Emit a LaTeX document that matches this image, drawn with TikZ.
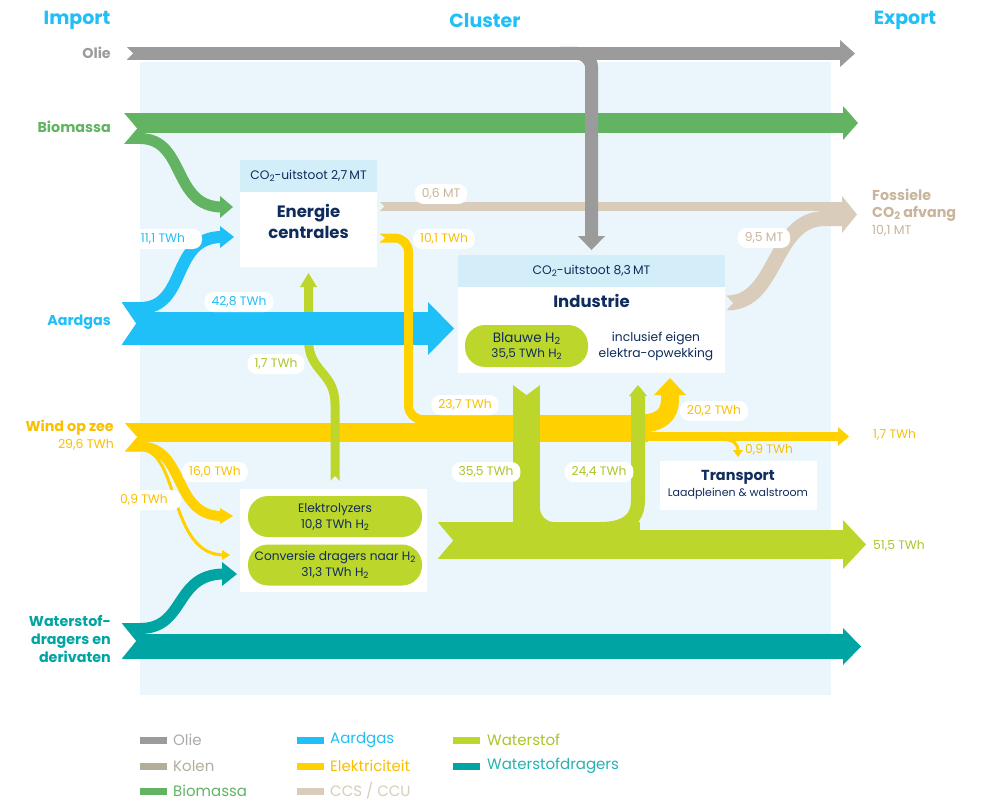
\documentclass[tikz,border=0pt]{standalone}
\usepackage{fontspec}
\setmainfont{Poppins}
\definecolor{olie}{HTML}{9B9B9B}
\definecolor{kolen}{HTML}{B2AE98}
\definecolor{bio}{HTML}{62B463}
\definecolor{gas}{HTML}{1FBFF8}
\definecolor{elec}{HTML}{FFD100}
\definecolor{elect}{HTML}{F9C000}
\definecolor{ccs}{HTML}{D9CCBA}
\definecolor{ccst}{HTML}{C8B59C}
\definecolor{htwo}{HTML}{BCD62C}
\definecolor{htwot}{HTML}{A9C62A}
\definecolor{teal}{HTML}{00A5A3}
\definecolor{bgc}{HTML}{EAF6FC}
\definecolor{hdr}{HTML}{D4EEF9}
\definecolor{navy}{HTML}{0F2C5C}
\newcommand\sbt{\raisebox{-0.3ex}{\scalebox{0.72}{2}}}
\begin{document}
\begin{tikzpicture}[x=1pt,y=-1pt,
  every node/.style={inner sep=0pt},
  pill/.style={fill=white, rounded corners=9, inner xsep=7, minimum height=20, font=\fontsize{12.3}{14}\selectfont},
  flowlbl/.style={font=\fontsize{12.3}{14}\selectfont},
  leftlbl/.style={anchor=east, align=right, font=\bfseries\fontsize{14.3}{18}\selectfont},
  title/.style={font=\bfseries\fontsize{19}{22}\selectfont, text=gas},
  boxtxt/.style={text=navy, align=center, font=\fontsize{12.3}{16.5}\selectfont},
  boxhead/.style={text=navy, align=center, font=\bfseries\fontsize{16.5}{21}\selectfont},
  hpill/.style={fill=htwo, rounded corners=20, minimum width=174, minimum height=41, text=navy, align=center, font=\fontsize{12.2}{16}\selectfont},
  legtxt/.style={anchor=west, font=\fontsize{15}{18}\selectfont}]
\useasboundingbox (0,0) rectangle (981,802);
\fill[white] (0,0) rectangle (981,802);
\fill[bgc] (140,62) rectangle (831,695);

% ---------- boxes ----------
\node[fill=white, minimum width=137, minimum height=107, anchor=north west] (ec) at (240,160) {};
\fill[hdr] (240,160) rectangle (377,192);
\node[fill=white, minimum width=267, minimum height=118, anchor=north west] (ind) at (458,255) {};
\fill[hdr] (458,255) rectangle (725,287);
\node[fill=white, minimum width=157, minimum height=49, anchor=north west] (tr) at (660,461) {};
\node[fill=white, minimum width=187, minimum height=103, anchor=north west] (pan) at (240,489) {};

% ---------- Biomassa ----------
\fill[bio] (124,113) rectangle (845,133);
\draw[bio, line width=11] (124,138.5) -- (140,138.5) .. controls (186,138.5) and (172,207) .. (222,207);
\fill[bio] (220,196) -- (233,207) -- (220,218) -- cycle;
\fill[bio] (843,106) -- (858,123) -- (843,140) -- cycle;
\fill[white] (123,112) -- (137,128.5) -- (123,145) -- cycle;

% ---------- CCS ----------
\fill[ccs] (380,202) rectangle (845,211);
\fill[bgc] (379,201.5) -- (384,206.5) -- (379,211.5) -- cycle;
\draw[ccs, line width=15] (727,303) .. controls (778,303) and (772,218.5) .. (825,218.5) -- (845,218.5);
\fill[ccs] (842,196) -- (857,214.5) -- (842,233) -- cycle;
\fill[bgc] (726,295.5) -- (733,303) -- (726,310.5) -- cycle;

% ---------- Olie ----------
\fill[olie] (127,47) rectangle (842,60);
\fill[white] (126,46.5) -- (133,53.5) -- (126,60.5) -- cycle;
\fill[olie] (840,40) -- (855,53.5) -- (840,67) -- cycle;
\draw[olie, line width=13, rounded corners=14] (560,53.5) -| (591.5,238);
\fill[olie] (578,236) -- (605,236) -- (591.5,250) -- cycle;

% ---------- Wind op zee ----------
\fill[elec] (125,423) rectangle (648,442);
\draw[elec, line width=10] (125,446.5) -- (140,446.5) .. controls (186,446.5) and (172,516) .. (222,516);
\fill[elec] (220,508) -- (233,516) -- (220,524) -- cycle;
\draw[elec, line width=3] (125,449.5) -- (140,449.5) .. controls (180,449.5) and (168,555) .. (224,555);
\fill[elec] (222,550) -- (230,555) -- (222,560) -- cycle;
\fill[white] (124,422.5) -- (137,437) -- (124,452) -- cycle;

% ---------- Waterstof 1,7 naar centrales ----------
\draw[htwo, line width=9] (335,481) -- (335,404) .. controls (335,372) and (308.5,372) .. (308.5,340) -- (308.5,286);
\fill[htwo] (300,287) -- (308.5,273) -- (317,287) -- cycle;
\fill[bgc] (330,481.5) -- (335,476) -- (340,481.5) -- cycle;

% ---------- Aardgas ----------
\fill[gas] (122,312) rectangle (430,345);
\draw[gas, line width=12] (122,308) -- (140,308) .. controls (188,308) and (170,237) .. (222,237);
\fill[gas] (220,226) -- (234,237) -- (220,248) -- cycle;
\fill[gas] (428,302) -- (454,328.5) -- (428,355) -- cycle;
\fill[white] (121,301.5) -- (136,323.5) -- (121,345.5) -- cycle;

% ---------- Elektriciteit uit centrales ----------
\draw[elec, line width=9, rounded corners=14] (380,238) -| (408.5,419.5) -- (648,419.5);
\fill[bgc] (379,233.5) -- (385,238) -- (379,242.5) -- cycle;
\draw[elec, line width=18] (640,423.5) .. controls (660,423.5) and (670,415) .. (670,400) -- (670,394);
\fill[elec] (654,395) -- (670,378) -- (686,395) -- cycle;
\fill[elec] (640,432) rectangle (840,441);
\fill[elec] (838,427) -- (849,436.5) -- (838,446) -- cycle;
\draw[elec, line width=3] (722,439.5) .. controls (733,439.5) and (738,443) .. (738,451);
\fill[elec] (733,450) -- (743,450) -- (738,457) -- cycle;

% ---------- Waterstof hoofdstroom ----------
\fill[htwo] (438,522) rectangle (640,559);
\fill[htwo] (630,530) rectangle (845,559);
\fill[htwo] (843,520) -- (866,544.5) -- (843,569) -- cycle;
\fill[bgc] (437,521.5) -- (453,540.5) -- (437,559.5) -- cycle;
\fill[htwo] (513,385) rectangle (540,523);
\fill[htwo] (540,508) .. controls (540,516) and (546,522) .. (554,522) -- (540,522) -- cycle;
\fill[bgc] (512.5,384.5) -- (526.5,395) -- (540.5,384.5) -- cycle;
\draw[htwo, line width=14] (600,529) .. controls (625,529) and (638,520) .. (638,500) -- (638,395);
\fill[htwo] (629,396) -- (638,385) -- (647,396) -- cycle;

% ---------- Waterstofdragers ----------
\fill[teal] (122,634) rectangle (845,659);
\draw[teal, line width=11] (122,628.5) -- (140,628.5) .. controls (186,628.5) and (174,574) .. (224,574);
\fill[teal] (222,562) -- (237,574) -- (222,586) -- cycle;
\fill[teal] (843,628) -- (861,646.5) -- (843,665) -- cycle;
\fill[white] (121,622.5) -- (136,641) -- (121,659.5) -- cycle;

% ---------- box texts ----------
\node[boxtxt] (ecco) at (308.5,176) {CO\sbt-uitstoot 2,7\,MT};
\node[boxhead] (ecn) at (308.5,221) {Energie\\centrales};
\node[boxtxt] (indco) at (591.5,271) {CO\sbt-uitstoot 8,3\,MT};
\node[boxhead] (indn) at (591.5,301) {Industrie};
\node[hpill, minimum width=123, minimum height=42, font=\fontsize{13.5}{17}\selectfont] (blauw) at (526.5,346) {Blauwe H\sbt\\[-2pt]{\fontsize{12}{14}\selectfont 35,5 TWh H\sbt}};
\node[boxtxt] (incl) at (656,346.5) {inclusief eigen\\elektra-opwekking};
\node[text=navy, font=\bfseries\fontsize{14.5}{16}\selectfont] (trn) at (738,477) {Transport};
\node[text=navy, font=\fontsize{11}{13}\selectfont] (trs) at (738,494) {Laadpleinen \& walstroom};
\node[hpill] (elz) at (335,516.5) {Elektrolyzers\\10,8 TWh H\sbt};
\node[hpill] (conv) at (335,565) {Conversie dragers naar H\sbt\\31,3 TWh H\sbt};

% ---------- pills ----------
\node[pill, text=gas, minimum width=78] (p111) at (163,239) {11,1 TWh};
\node[pill, text=gas] (p428) at (239,302) {42,8 TWh};
\node[pill, text=htwot] (p17) at (276,364) {1,7 TWh};
\node[pill, text=elect] (p101) at (444,239) {10,1 TWh};
\node[pill, text=ccst] (p06) at (441,194) {0,6 MT};
\node[pill, text=ccst] (p95) at (764,238) {9,5 MT};
\node[pill, text=elect] (p237) at (465,405) {23,7 TWh};
\node[pill, text=elect] (p202) at (714,411) {20,2 TWh};
\node[pill, text=htwot] (p355) at (486,472) {35,5 TWh};
\node[pill, text=htwot] (p244) at (599,472) {24,4 TWh};
\node[pill, text=elect] (p160) at (215,472) {16,0 TWh};
\node[pill, text=elect, minimum width=74] (p09) at (144,500) {0,9 TWh};
\node[flowlbl, text=elect, anchor=west] (t09) at (745,450) {0,9 TWh};
\node[flowlbl, text=elect, anchor=west] (x17) at (873,435) {1,7 TWh};
\node[flowlbl, text=htwot, anchor=west] (x515) at (873,546) {51,5 TWh};

% ---------- titles and side labels ----------
\node[title] (timp) at (77,20.5) {Import};
\node[title] (tclu) at (485,20.5) {Cluster};
\node[title] (texp) at (905,20.5) {Export};
\node[leftlbl, text=olie] (lolie) at (111,53) {Olie};
\node[leftlbl, text=bio] (lbio) at (111,127) {Biomassa};
\node[leftlbl, text=gas] (lgas) at (111,322) {Aardgas};
\node[leftlbl, text=elect] (lwind) at (114,428) {Wind op zee};
\node[anchor=east, text=elect, font=\fontsize{12.5}{14}\selectfont] (lwindv) at (114,445) {29,6 TWh};
\node[leftlbl, text=teal] (lws) at (111,639) {Waterstof-\\dragers en\\derivaten};
\node[anchor=west, align=left, text=ccst, font=\bfseries\fontsize{14.3}{17}\selectfont] (rfos) at (872,205) {Fossiele\\CO\sbt{} afvang};
\node[anchor=west, text=ccst, font=\fontsize{12.5}{14}\selectfont] (rfosv) at (872,230.5) {10,1 MT};

% ---------- legend ----------
\fill[olie] (140,737) rectangle (167,744);
\node[legtxt, text=olie!85] (lg1) at (173,740) {Olie};
\fill[kolen] (140,763) rectangle (167,770);
\node[legtxt, text=kolen] (lg2) at (173,766) {Kolen};
\fill[bio] (140,788) rectangle (167,795);
\node[legtxt, text=bio] (lg3) at (173,791) {Biomassa};
\fill[gas] (297,737) rectangle (324,744);
\node[legtxt, text=gas] (lg4) at (330,740) {Aardgas};
\fill[elec] (297,763) rectangle (324,770);
\node[legtxt, text=elect] (lg5) at (330,766) {Elektriciteit};
\fill[ccs] (297,788) rectangle (324,795);
\node[legtxt, text=ccs] (lg6) at (330,791) {CCS / CCU};
\fill[htwo] (453,737) rectangle (480,744);
\node[legtxt, text=htwot] (lg7) at (487,740) {Waterstof};
\fill[teal] (453,763) rectangle (480,770);
\node[legtxt, text=teal!85] (lg8) at (487,766) {Waterstofdragers};
\end{tikzpicture}
\end{document}
